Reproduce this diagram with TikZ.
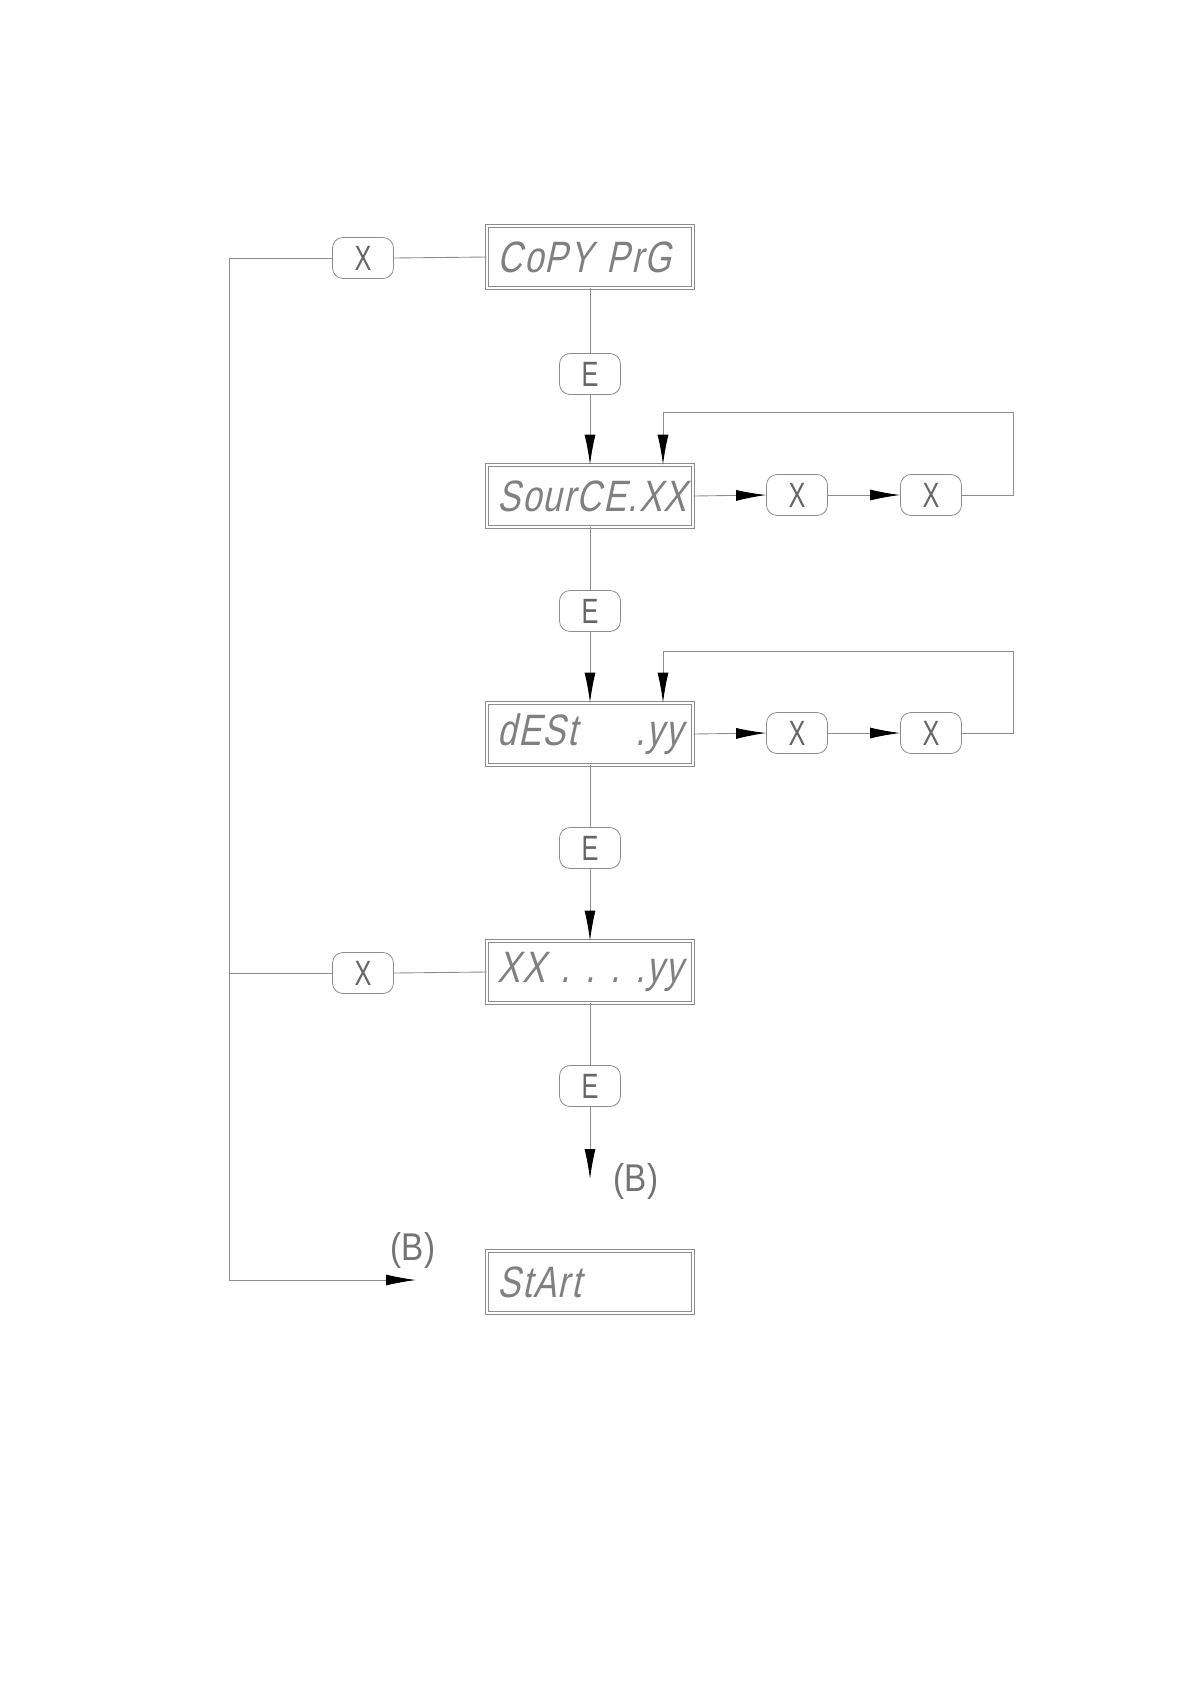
\documentclass[tikz,border=0pt]{standalone}
\usepackage{fontspec}
\setmainfont{Liberation Sans}
\newfontfamily\segfont[FakeStretch=0.78,FakeSlant=0.22,LetterSpace=4]{Liberation Sans}
\newfontfamily\keyfont[FakeStretch=0.72]{Liberation Sans}
\newfontfamily\jumpfont[FakeStretch=0.86]{Liberation Sans}
\usetikzlibrary{arrows.meta,calc}

\begin{document}
\begin{tikzpicture}[
    x=0.02cm, y=-0.02cm,
    >=Latex,
    line/.style={draw=black!45, line width=0.5pt},
    arrow/.style={line, -{Latex[length=6mm, width=2.2mm, black]}},
    display/.style={draw=black!45, line width=0.45pt, double=white, double distance=1.6pt,
        minimum width=4.12cm, minimum height=1.24cm, text width=3.7cm, inner xsep=0.21cm,
        align=left, font=\segfont\fontsize{25}{25}\selectfont, text=black!50},
    keybox/.style={draw=black!45, line width=0.45pt, rounded corners=6pt,
        minimum width=1.22cm, minimum height=0.82cm, inner sep=0pt,
        font=\keyfont\fontsize{20}{20}\selectfont, text=black!60},
    jumpmark/.style={font=\jumpfont\fontsize{22}{22}\selectfont, text=black!55}
]
\useasboundingbox (0,0) rectangle (1190,1684);

% display states
\node[display] (copyprg) at (590,257) {CoPY PrG};
\node[display] (source) at (590,496) {SourCE.XX};
\node[display] (dest) at (590,734) {dESt\hfill.yy};
\node[display] (range) at (590,972) {XX\hfill.\hfill.\hfill.\hfill.yy};
\node[display] (start) at (590,1282) {StArt};

% keys
\node[keybox] (ex1) at (363,258) {X};
\node[keybox] (ex2) at (363,973) {X};
\node[keybox] (e1) at (590,374) {E};
\node[keybox] (e2) at (590,611) {E};
\node[keybox] (e3) at (590,848) {E};
\node[keybox] (e4) at (590,1086) {E};
\node[keybox] (sx1) at (797,495) {X};
\node[keybox] (sx2) at (931,495) {X};
\node[keybox] (dx1) at (797,733) {X};
\node[keybox] (dx2) at (931,733) {X};

% jump marks
\node[jumpmark] (bdown) at (636,1181) {(B)};
\node[jumpmark] (bleft) at (413,1250) {(B)};

\coordinate (lefttop) at (229,258);
\coordinate (leftbot) at (229,1280);
\coordinate (bout) at (416,1280);
\coordinate (bend) at (590,1179);
\coordinate (srcloop) at (663,412);
\coordinate (dstloop) at (663,651);

% main path
\draw[line] (copyprg.south) -- (e1.north);
\draw[arrow] (e1.south) -- (source.north);
\draw[line] (source.south) -- (e2.north);
\draw[arrow] (e2.south) -- (dest.north);
\draw[line] (dest.south) -- (e3.north);
\draw[arrow] (e3.south) -- (range.north);
\draw[line] (range.south) -- (e4.north);
\draw[arrow] (e4.south) -- (bend);

% digit select loops
\draw[arrow] (source.east) -- (sx1.west);
\draw[arrow] (sx1.east) -- (sx2.west);
\draw[arrow] (sx2.east) -- ++(52,0) |- (srcloop) -- (srcloop |- source.north);
\draw[arrow] (dest.east) -- (dx1.west);
\draw[arrow] (dx1.east) -- (dx2.west);
\draw[arrow] (dx2.east) -- ++(52,0) |- (dstloop) -- (dstloop |- dest.north);

% exit
\draw[line] (copyprg.west) -- (ex1.east);
\draw[line] (range.west) -- (ex2.east);
\draw[line] (ex2.west) -- (ex2.west -| lefttop);
\draw[arrow] (ex1.west) -- (lefttop) -- (leftbot) -- (bout);
\end{tikzpicture}
\end{document}
